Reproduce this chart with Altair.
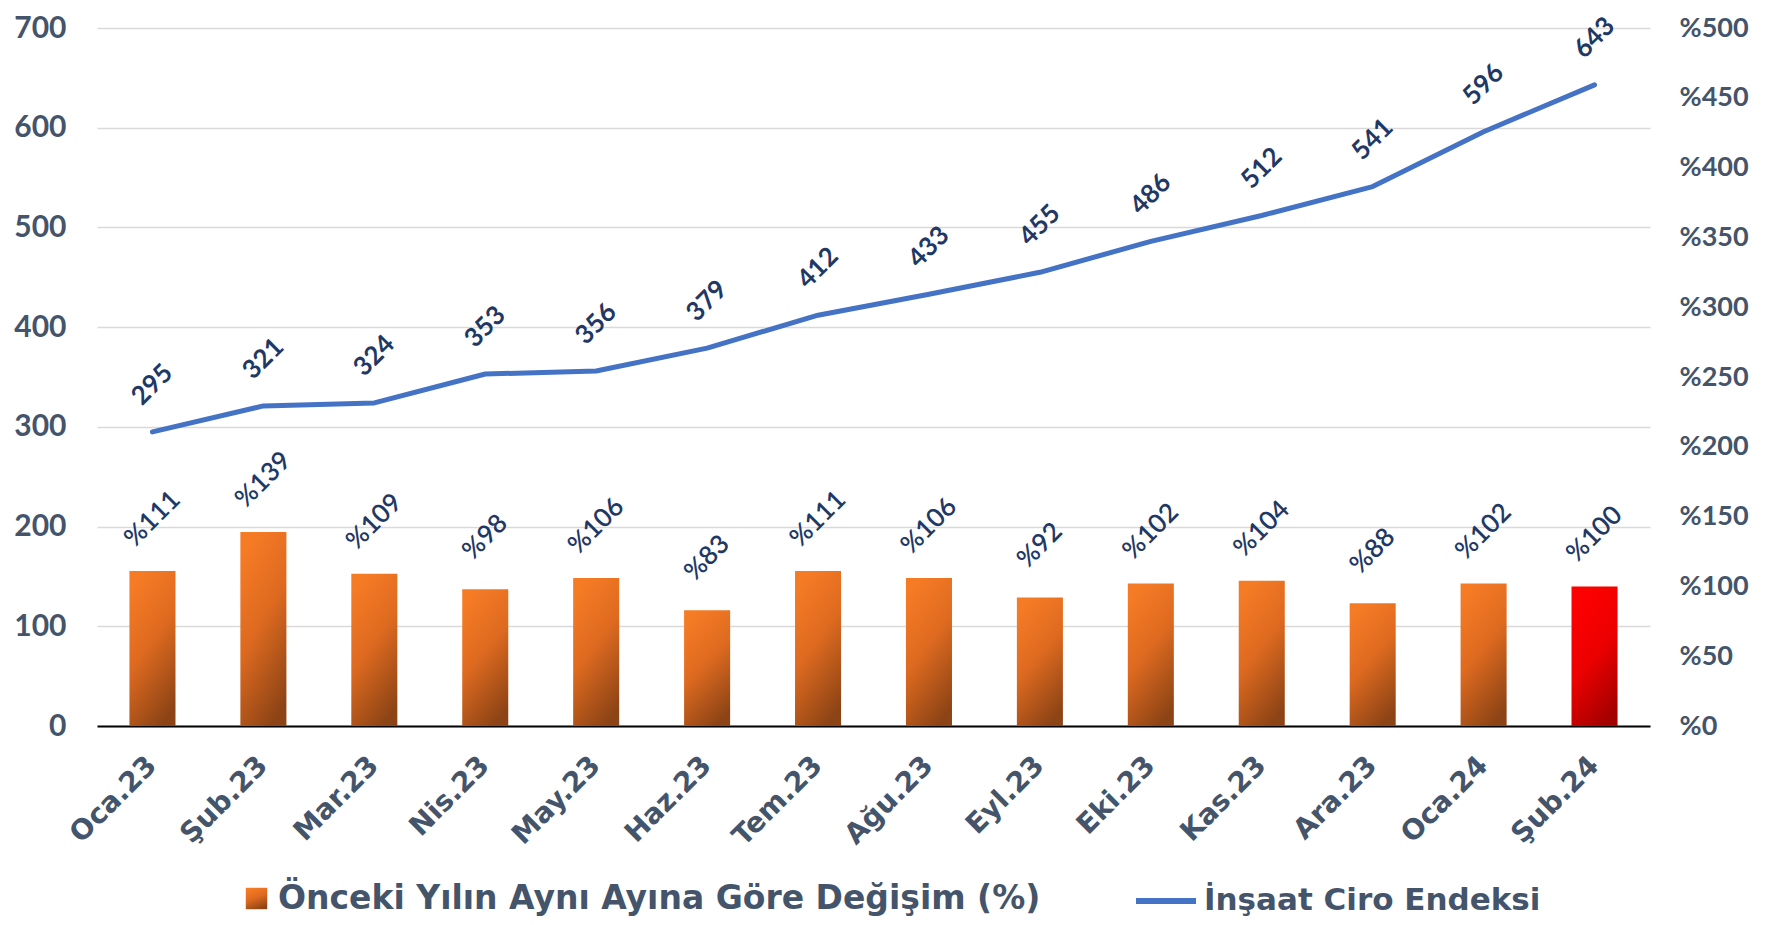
import altair as alt
import pandas as pd

months = ["Oca.23", "Şub.23", "Mar.23", "Nis.23", "May.23", "Haz.23", "Tem.23",
          "Ağu.23", "Eyl.23", "Eki.23", "Kas.23", "Ara.23", "Oca.24", "Şub.24"]
index_values = [295, 321, 324, 353, 356, 379, 412, 433, 455, 486, 512, 541, 596, 643]
pct_change = [111, 139, 109, 98, 106, 83, 111, 106, 92, 102, 104, 88, 102, 100]
highlight = [0] * 13 + [1]
left_ticks = [0, 100, 200, 300, 400, 500, 600, 700]
right_ticks = [0, 50, 100, 150, 200, 250, 300, 350, 400, 450, 500]

bar_name = "Önceki Yılın Aynı Ayına Göre Değişim (%)"
line_name = "İnşaat Ciro Endeksi"

df = pd.DataFrame({
    "month": months,
    "idx": index_values,
    "pct": pct_change,
    "hl": highlight,
})

FONT = "Lato"
WIDE_FONT = "DejaVu Sans"
AXIS_COLOR = "#44546A"
LABEL_COLOR = "#1F3864"

x_enc = alt.X(
    "month:N", sort=months, title=None,
    scale=alt.Scale(paddingInner=0.585, paddingOuter=0.2925),
    axis=alt.Axis(labelAngle=315, labelAlign="right", labelBaseline="middle",
                  labelPadding=35, ticks=False, domain=True, domainColor="#000000",
                  domainWidth=2, labelFont=WIDE_FONT, labelFontSize=28, grid=False),
)

orange_grad = alt.Gradient(
    gradient="linear",
    stops=[alt.GradientStop(offset=0, color="#F67B25"),
           alt.GradientStop(offset=0.45, color="#DE6A20"),
           alt.GradientStop(offset=1, color="#8C4315")],
    x1=0.3, y1=0, x2=0.7, y2=1,
)
red_grad = alt.Gradient(
    gradient="linear",
    stops=[alt.GradientStop(offset=0, color="#FF0000"),
           alt.GradientStop(offset=0.5, color="#EC0000"),
           alt.GradientStop(offset=1, color="#A30000")],
    x1=0.3, y1=0, x2=0.7, y2=1,
)

y_right = alt.Y(
    "pct:Q", title=None,
    scale=alt.Scale(domain=[0, 500], nice=False),
    axis=alt.Axis(orient="right", values=right_ticks, labelExpr="'%' + datum.value",
                  grid=False, ticks=False, domain=False, labelPadding=29,
                  labelFontSize=27),
)

base = alt.Chart(df)

bars_orange = base.transform_filter("datum.hl == 0").transform_calculate(
    s1="'" + bar_name + "'"
).mark_bar(fill=orange_grad).encode(
    x=x_enc,
    y=y_right,
    opacity=alt.Opacity(
        "s1:N",
        scale=alt.Scale(domain=[bar_name], range=[1]),
        legend=alt.Legend(title=None, orient="none", legendX=143, legendY=854,
                          symbolType="square", symbolSize=460, labelOffset=5,
                          padding=0, symbolFillColor="#E46E1F", symbolStrokeWidth=0,
                          labelFont=WIDE_FONT, labelFontSize=33),
    ),
)
bars_red = base.transform_filter("datum.hl == 1").mark_bar(fill=red_grad).encode(
    x=x_enc,
    y=y_right,
)
bar_text = base.transform_calculate(lbl="'%' + datum.pct").mark_text(
    angle=315, align="center", baseline="middle", yOffset=-52,
    font=FONT, fontSize=26, fontWeight=600, color=LABEL_COLOR,
).encode(x=x_enc, y=y_right, text="lbl:N")

bar_layer = alt.layer(bars_orange, bars_red, bar_text)

y_left = alt.Y(
    "idx:Q", title=None,
    scale=alt.Scale(domain=[0, 700], nice=False),
    axis=alt.Axis(orient="left", values=left_ticks, grid=True, gridColor="#D9D9D9",
                  gridWidth=1.5, ticks=False, domain=False, labelPadding=31),
)

line = base.transform_calculate(s2="'" + line_name + "'").mark_line(
    strokeWidth=5, strokeCap="round", strokeJoin="round"
).encode(
    x=x_enc,
    y=y_left,
    color=alt.Color(
        "s2:N",
        scale=alt.Scale(domain=[line_name], range=["#4472C4"]),
        legend=alt.Legend(title=None, orient="none", legendX=1036, legendY=840,
                          symbolType="stroke", symbolSize=3600, symbolStrokeWidth=6,
                          labelOffset=5, padding=0,
                          labelFont=WIDE_FONT, labelFontSize=31),
    ),
)
line_text = base.mark_text(
    angle=315, align="center", baseline="middle", yOffset=-47,
    font=FONT, fontSize=26, fontWeight="bold", color=LABEL_COLOR,
).encode(x=x_enc, y=y_left, text="idx:Q")

line_layer = alt.layer(line, line_text)

chart = alt.layer(bar_layer, line_layer).resolve_scale(
    y="independent"
).properties(
    width=1553, height=698,
    autosize=alt.AutoSizeParams(type="none"),
    padding={"left": 89, "top": 20, "right": 105, "bottom": 191},
).configure_view(strokeWidth=0).configure_axis(
    labelFont=FONT, labelFontSize=30, labelFontWeight="bold", labelColor=AXIS_COLOR,
).configure_legend(
    labelFont=FONT, labelFontSize=30, labelFontWeight="bold", labelColor=AXIS_COLOR,
    labelLimit=2000,
)

chart.save("out.html", embed_options={"renderer": "svg", "actions": False})
